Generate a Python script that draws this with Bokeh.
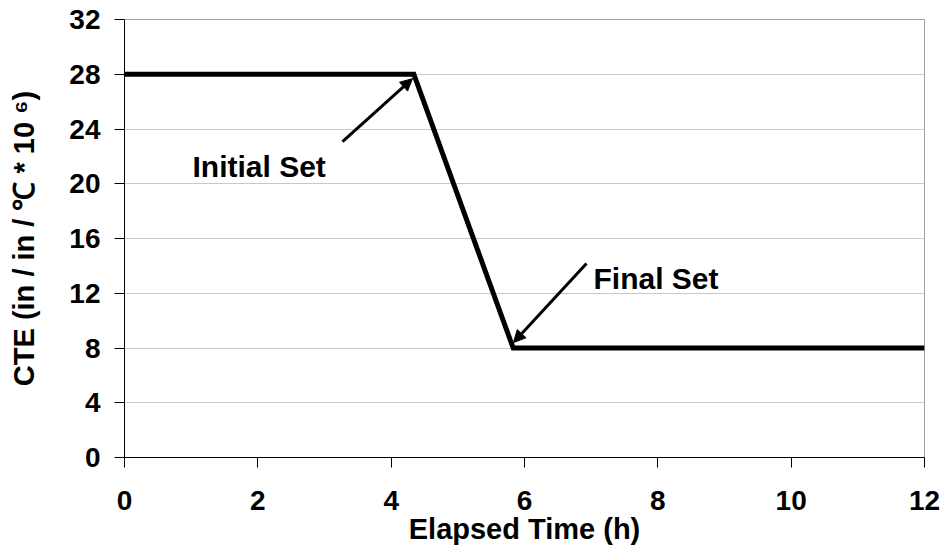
from bokeh.plotting import figure
from bokeh.models import Arrow, NormalHead, FixedTicker, Range1d
from bokeh.core.properties import value
from bokeh.embed import file_html
from bokeh.resources import INLINE

# Data
time_h = [0, 4.34, 5.83, 12]
cte = [28, 28, 8, 8]
x_ticks = [0, 2, 4, 6, 8, 10, 12]
y_ticks = [0, 4, 8, 12, 16, 20, 24, 28, 32]
ann_labels = ["Initial Set", "Final Set"]
ann_text_x = [1.02, 7.035]
ann_text_y = [21.25, 13.07]
arrow_tail_x = [3.27, 6.93]
arrow_tail_y = [23.08, 14.17]
arrow_head_x = [4.32, 5.835]
arrow_head_y = [27.68, 8.40]

FONT = "Liberation Sans"

p = figure(width=943, height=548, output_backend="svg", toolbar_location=None,
           x_range=Range1d(0, 12), y_range=Range1d(0, 32),
           min_border_left=124, min_border_right=19, min_border_top=19, min_border_bottom=91)

p.background_fill_color = "white"
p.border_fill_color = "white"
p.outline_line_color = "#a0a0a0"
p.outline_line_width = 1

p.xgrid.visible = False
p.ygrid.grid_line_color = "#c8c8c8"
p.ygrid.grid_line_width = 1

p.xaxis.ticker = FixedTicker(ticks=x_ticks)
p.yaxis.ticker = FixedTicker(ticks=y_ticks)
for ax in (p.xaxis[0], p.yaxis[0]):
    ax.axis_line_color = "black"
    ax.axis_line_width = 1
    ax.major_tick_line_color = "black"
    ax.major_tick_in = 0
    ax.major_tick_out = 10
    ax.minor_tick_line_color = None
    ax.major_label_text_font = FONT
    ax.major_label_text_font_style = "bold"
    ax.major_label_text_font_size = "28px"
    ax.major_label_text_color = "black"
    ax.axis_label_text_font = FONT
    ax.axis_label_text_font_style = "bold"
    ax.axis_label_text_font_size = "29px"
    ax.axis_label_text_color = "black"

p.xaxis.axis_label = "Elapsed Time (h)"
p.yaxis.axis_label = "CTE (in / in / \u2103 * 10 \u2076)"
p.xaxis.major_label_standoff = 23
p.xaxis.axis_label_standoff = 0
p.yaxis.major_label_standoff = 14
p.yaxis.axis_label_standoff = 26

p.line(time_h, cte, line_color="black", line_width=5, line_join="miter")

for i in range(len(ann_labels)):
    p.add_layout(Arrow(end=NormalHead(size=12, fill_color="black", line_color="black", line_width=1),
                       x_start=arrow_tail_x[i], y_start=arrow_tail_y[i],
                       x_end=arrow_head_x[i], y_end=arrow_head_y[i],
                       line_color="black", line_width=3))

p.text(x=ann_text_x, y=ann_text_y, text=ann_labels,
       text_font=value(FONT), text_font_style="bold", text_font_size="30px",
       text_color="black", text_align="left", text_baseline="alphabetic")

open("out.html", "w").write(file_html(p, INLINE))
